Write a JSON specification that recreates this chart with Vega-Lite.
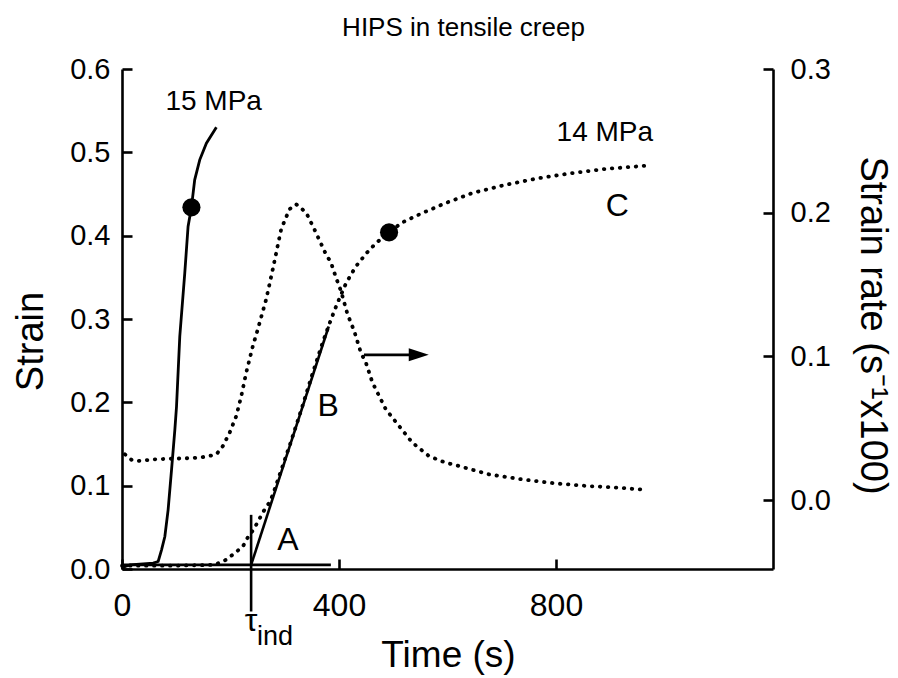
{
  "$schema": "https://vega.github.io/schema/vega-lite/v6.json",
  "width": 651,
  "height": 500,
  "autosize": {"type": "none"},
  "padding": {"left": 122, "top": 69, "right": 125, "bottom": 109},
  "background": "white",
  "config": {
    "view": {"stroke": null},
    "font": "Liberation Sans",
    "axis": {
      "grid": false,
      "domainColor": "black",
      "domainWidth": 2.6,
      "tickColor": "black",
      "tickWidth": 2.6,
      "tickSize": -10,
      "labelColor": "black",
      "titleColor": "black",
      "labelFont": "Liberation Sans",
      "titleFont": "Liberation Sans",
      "titleFontWeight": "normal",
      "labelFlush": false
    }
  },
  "title": {
    "text": "HIPS in tensile creep",
    "font": "Liberation Sans",
    "fontSize": 26,
    "fontWeight": "normal",
    "color": "black",
    "anchor": "middle",
    "frame": "group",
    "baseline": "alphabetic",
    "dx": 16,
    "offset": -6.5
  },
  "datasets": {
    "strain15": [
      {"t": 0, "s": 0},
      {"t": 6, "s": 0.003},
      {"t": 14.7, "s": 0.005},
      {"t": 57.5, "s": 0.007},
      {"t": 66.7, "s": 0.009},
      {"t": 72.9, "s": 0.023},
      {"t": 79, "s": 0.039},
      {"t": 85, "s": 0.071},
      {"t": 91.3, "s": 0.119},
      {"t": 97.4, "s": 0.167},
      {"t": 100.5, "s": 0.195},
      {"t": 106.5, "s": 0.279},
      {"t": 115.7, "s": 0.355},
      {"t": 121.8, "s": 0.411},
      {"t": 128, "s": 0.434},
      {"t": 134, "s": 0.467},
      {"t": 143.3, "s": 0.491},
      {"t": 155.6, "s": 0.511},
      {"t": 174, "s": 0.53}
    ],
    "strain14": [
      {"t": 0, "s": 0.004},
      {"t": 100, "s": 0.004},
      {"t": 170, "s": 0.005},
      {"t": 192, "s": 0.011},
      {"t": 207.6, "s": 0.019},
      {"t": 222.8, "s": 0.027},
      {"t": 232, "s": 0.038},
      {"t": 241, "s": 0.046},
      {"t": 250, "s": 0.056},
      {"t": 259.6, "s": 0.068},
      {"t": 271.9, "s": 0.08},
      {"t": 278, "s": 0.089},
      {"t": 290, "s": 0.112},
      {"t": 310, "s": 0.15},
      {"t": 330, "s": 0.19},
      {"t": 350, "s": 0.232},
      {"t": 370, "s": 0.272},
      {"t": 385, "s": 0.299},
      {"t": 397, "s": 0.319},
      {"t": 413, "s": 0.343},
      {"t": 431, "s": 0.363},
      {"t": 452, "s": 0.38},
      {"t": 468, "s": 0.391},
      {"t": 492, "s": 0.404},
      {"t": 517, "s": 0.416},
      {"t": 553, "s": 0.427},
      {"t": 596, "s": 0.439},
      {"t": 645, "s": 0.451},
      {"t": 707, "s": 0.461},
      {"t": 768, "s": 0.469},
      {"t": 829, "s": 0.475},
      {"t": 890, "s": 0.48},
      {"t": 967, "s": 0.484}
    ],
    "rate": [
      {"t": 5.5, "r": 0.0318},
      {"t": 17.8, "r": 0.0279},
      {"t": 33, "r": 0.0272},
      {"t": 57.5, "r": 0.0283},
      {"t": 94.2, "r": 0.0288},
      {"t": 131, "r": 0.0292},
      {"t": 155.6, "r": 0.0302},
      {"t": 174, "r": 0.0318},
      {"t": 186, "r": 0.0376},
      {"t": 198.4, "r": 0.0469},
      {"t": 210.7, "r": 0.0585},
      {"t": 219.9, "r": 0.0724},
      {"t": 229, "r": 0.0887},
      {"t": 241.2, "r": 0.1072},
      {"t": 250.4, "r": 0.1189},
      {"t": 265.8, "r": 0.1398},
      {"t": 278, "r": 0.1607},
      {"t": 293.4, "r": 0.1885},
      {"t": 308.6, "r": 0.2024},
      {"t": 321, "r": 0.2059},
      {"t": 339.4, "r": 0.2001},
      {"t": 354.5, "r": 0.1885},
      {"t": 376, "r": 0.171},
      {"t": 385.2, "r": 0.1653},
      {"t": 394.4, "r": 0.1549},
      {"t": 403.6, "r": 0.1455},
      {"t": 415.7, "r": 0.1293},
      {"t": 428, "r": 0.1177},
      {"t": 440.3, "r": 0.1026},
      {"t": 449.5, "r": 0.0957},
      {"t": 461.6, "r": 0.0818},
      {"t": 486.2, "r": 0.0632},
      {"t": 510.7, "r": 0.0515},
      {"t": 535, "r": 0.04},
      {"t": 565.8, "r": 0.0306},
      {"t": 596.4, "r": 0.026},
      {"t": 620.9, "r": 0.0237},
      {"t": 676, "r": 0.0179},
      {"t": 737, "r": 0.0144},
      {"t": 798.5, "r": 0.0116},
      {"t": 859.6, "r": 0.0097},
      {"t": 914.8, "r": 0.0086},
      {"t": 966.8, "r": 0.007}
    ],
    "segments": [
      {"name": "A", "t": 0, "s": 0.005, "t2": 385, "s2": 0.005},
      {"name": "B", "t": 238, "s": 0.005, "t2": 381, "s2": 0.291},
      {"name": "tau", "t": 238, "s": 0.065, "t2": 238, "s2": -0.051},
      {"name": "arrow", "t": 446, "s": 0.257, "t2": 535, "s2": 0.257}
    ],
    "heads": [
      {"t": 547, "s": 0.257}
    ],
    "dots": [
      {"t": 128, "s": 0.434},
      {"t": 492.3, "s": 0.404}
    ],
    "labels": [
      {"t": 169, "s": 0.56, "label": "15 MPa", "size": 28},
      {"t": 890, "s": 0.523, "label": "14 MPa", "size": 28},
      {"t": 305.8, "s": 0.035, "label": "A", "size": 32},
      {"t": 380, "s": 0.196, "label": "B", "size": 32},
      {"t": 913, "s": 0.436, "label": "C", "size": 32},
      {"t": 238, "s": -0.062, "label": "τ", "size": 32},
      {"t": 282, "s": -0.081, "label": "ind", "size": 27}
    ]
  },
  "layer": [
    {
      "encoding": {
        "x": {
          "field": "t",
          "type": "quantitative",
          "scale": {"domain": [0, 1200], "nice": false, "zero": false},
          "axis": {
            "orient": "bottom",
            "values": [0, 400, 800],
            "format": "d",
            "labelFontSize": 32,
            "labelPadding": 31,
            "title": "Time (s)",
            "titleFontSize": 37,
            "titleX": 326,
            "titleY": 97,
            "titleBaseline": "alphabetic",
            "titleAlign": "center"
          }
        },
        "y": {
          "field": "s",
          "type": "quantitative",
          "scale": {"domain": [0, 0.6], "nice": false, "zero": false},
          "axis": {
            "orient": "left",
            "values": [0, 0.1, 0.2, 0.3, 0.4, 0.5, 0.6],
            "format": ".1f",
            "labelFontSize": 29,
            "labelPadding": 22,
            "title": "Strain",
            "titleFontSize": 38,
            "titleAngle": 270,
            "titleX": -80,
            "titleY": 272,
            "titleBaseline": "alphabetic",
            "titleAlign": "center"
          }
        }
      },
      "layer": [
        {
          "data": {"name": "strain15"},
          "mark": {"type": "line", "color": "black", "strokeWidth": 2.8}
        },
        {
          "data": {"name": "strain14"},
          "mark": {"type": "line", "color": "black", "strokeWidth": 3.8, "strokeDash": [0.5, 7.5], "strokeCap": "round"}
        },
        {
          "data": {"name": "segments"},
          "mark": {"type": "rule", "color": "black", "strokeWidth": 2.6},
          "encoding": {
            "x2": {"field": "t2"},
            "y2": {"field": "s2"}
          }
        },
        {
          "data": {"name": "heads"},
          "mark": {"type": "point", "shape": "M -1 -0.65 L 1 0 L -1 0.65 Z", "filled": true, "color": "black", "opacity": 1, "size": 400}
        },
        {
          "data": {"name": "dots"},
          "mark": {"type": "circle", "color": "black", "opacity": 1, "size": 330}
        },
        {
          "data": {"name": "labels"},
          "mark": {"type": "text", "color": "black", "font": "Liberation Sans", "align": "center", "baseline": "middle"},
          "encoding": {
            "text": {"field": "label"},
            "size": {"field": "size", "type": "quantitative", "scale": null}
          }
        }
      ]
    },
    {
      "data": {"name": "rate"},
      "mark": {"type": "line", "color": "black", "strokeWidth": 3.8, "strokeDash": [0.5, 7.5], "strokeCap": "round"},
      "encoding": {
        "x": {
          "field": "t",
          "type": "quantitative",
          "scale": {"domain": [0, 1200], "nice": false, "zero": false},
          "axis": {
            "orient": "bottom",
            "values": [0, 400, 800],
            "format": "d",
            "labelFontSize": 32,
            "labelPadding": 31,
            "title": "Time (s)",
            "titleFontSize": 37,
            "titleX": 326,
            "titleY": 97,
            "titleBaseline": "alphabetic",
            "titleAlign": "center"
          }
        },
        "y": {
          "field": "r",
          "type": "quantitative",
          "scale": {"domain": [-0.048, 0.3], "nice": false, "zero": false},
          "axis": {
            "orient": "right",
            "values": [0, 0.1, 0.2, 0.3],
            "format": ".1f",
            "labelFontSize": 29,
            "labelPadding": 27,
            "title": "Strain rate (s⁻¹x100)",
            "titleFontSize": 38,
            "titleAngle": 90,
            "titleX": 87,
            "titleY": 256,
            "titleBaseline": "alphabetic",
            "titleAlign": "center"
          }
        }
      }
    }
  ],
  "resolve": {"scale": {"y": "independent"}}
}
